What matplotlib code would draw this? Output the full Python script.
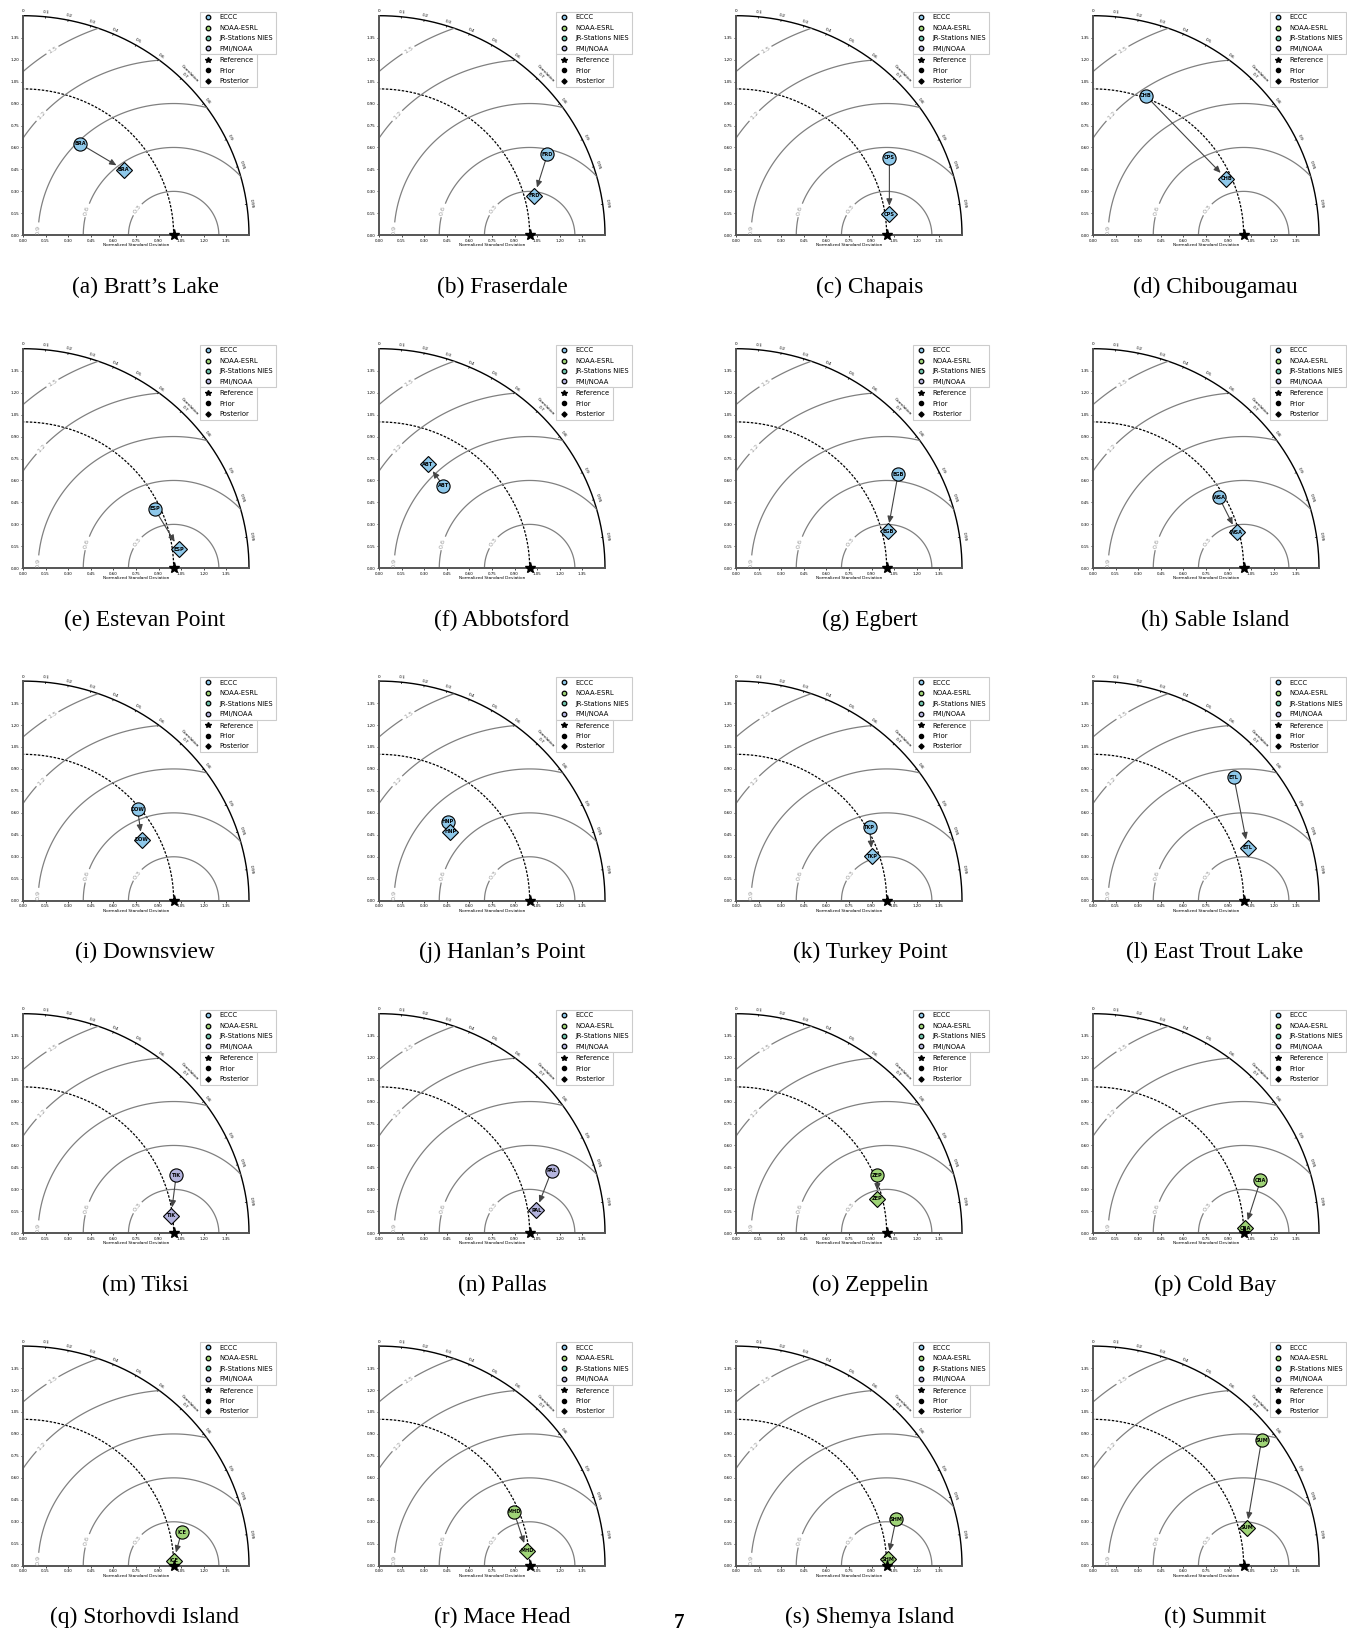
import numpy as np
import matplotlib.pyplot as plt
from matplotlib.lines import Line2D
from matplotlib.patches import Wedge

# station info, one panel per station
letters = list('abcdefghijklmnopqrst')
names = ["Bratt’s Lake", "Fraserdale", "Chapais", "Chibougamau",
         "Estevan Point", "Abbotsford", "Egbert", "Sable Island",
         "Downsview", "Hanlan’s Point", "Turkey Point", "East Trout Lake",
         "Tiksi", "Pallas", "Zeppelin", "Cold Bay",
         "Storhovdi Island", "Mace Head", "Shemya Island", "Summit"]
codes = ['BRA', 'FRD', 'CPS', 'CHB', 'ESP', 'ABT', 'EGB', 'WSA',
         'DOW', 'HNP', 'TKP', 'ETL', 'TIK', 'PAL', 'ZEP', 'CBA',
         'ICE', 'MHD', 'SHM', 'SUM']
networks = ['ECCC'] * 12 + ['FMI/NOAA'] * 2 + ['NOAA-ESRL'] * 6

# normalized std and correlation (prior / posterior)
prior_std = [0.731, 1.248, 1.148, 1.015, 0.963, 0.707, 1.252, 0.967,
             0.984, 0.707, 1.019, 1.260, 1.091, 1.223, 1.019, 1.169,
             1.077, 0.968, 1.109, 1.409]
prior_corr = [0.520, 0.896, 0.887, 0.347, 0.907, 0.604, 0.859, 0.865,
              0.773, 0.645, 0.870, 0.742, 0.932, 0.937, 0.921, 0.951,
              0.977, 0.925, 0.958, 0.794]
post_std = [0.805, 1.067, 1.028, 0.966, 1.044, 0.780, 1.038, 0.984,
            0.891, 0.667, 0.953, 1.088, 0.990, 1.055, 0.967, 1.010,
            1.001, 0.986, 1.008, 1.053]
post_corr = [0.830, 0.967, 0.990, 0.917, 0.992, 0.415, 0.970, 0.968,
             0.885, 0.709, 0.948, 0.943, 0.9926, 0.989, 0.970, 0.9994,
             0.9994, 0.9948, 0.9990, 0.969]

net_names = ['ECCC', 'NOAA-ESRL', 'JR-Stations NIES', 'FMI/NOAA']
net_colors = ['#8ec8ea', '#9fd477', '#6fc3ab', '#b4b4de']

corr_ticks = [0.0, 0.1, 0.2, 0.3, 0.4, 0.5, 0.6, 0.7, 0.8, 0.9, 0.95, 0.99]
rms_levels = [0.3, 0.6, 0.9, 1.2, 1.5]
std_ticks = [0.0, 0.15, 0.30, 0.45, 0.60, 0.75, 0.90, 1.05, 1.20, 1.35]

W, H = 1347, 1632
col_x = [23, 379, 736, 1093]
row_y = [235.3, 568.3, 900.7, 1233.3, 1565.7]
cap_x = [145, 502, 870, 1215]
ax_w, ax_h = 226, 219.6

gx, gy = np.meshgrid(np.linspace(0, 1.5, 400), np.linspace(0, 1.5, 400))
rms = np.sqrt((gx - 1.0) ** 2 + gy ** 2)
rms_lab_pos = [(0.749, 0.184), (0.417, 0.173), (0.10, 0.04), (0.118, 0.82), (0.195, 1.266)]

leg_kw = dict(loc='upper left', fontsize=4.9, frameon=True, fancybox=False,
              edgecolor='#cccccc', borderaxespad=0, handlelength=1.7,
              handletextpad=0.8, borderpad=0.4, labelspacing=0.65, framealpha=1)


def polar_xy(s, c):
    return s * c, s * np.sqrt(1 - c ** 2)


def taylor_panel(ax, k):
    ax.set_xlim(0, 1.5)
    ax.set_ylim(0, 1.5)
    for s in ['top', 'right']:
        ax.spines[s].set_visible(False)
    for s in ['left', 'bottom']:
        ax.spines[s].set_linewidth(1.4)
        ax.spines[s].set_color('#555555')
    ax.set_xticks(std_ticks)
    ax.set_yticks(std_ticks)
    ax.set_xticklabels(['%.2f' % t for t in std_ticks])
    ax.set_yticklabels(['%.2f' % t for t in std_ticks])
    ax.tick_params(labelsize=2.9, length=1.5, width=0.5, pad=1)
    ax.set_xlabel('Normalized Standard Deviation', fontsize=3.1, labelpad=0.5)

    th = np.linspace(0, np.pi / 2, 300)
    ax.plot(1.5 * np.cos(th), 1.5 * np.sin(th), color='k', lw=1.0, clip_on=False)
    ax.plot(np.cos(th), np.sin(th), color='k', lw=0.9, ls=(0, (2, 1.2)))

    wedge = Wedge((0, 0), 1.5, 0, 90, facecolor='none', edgecolor='none')
    ax.add_patch(wedge)
    cs = ax.contour(gx, gy, rms, levels=rms_levels, colors='#808080', linewidths=0.9)
    cs.set_clip_path(wedge)
    ax.clabel(cs, fontsize=4.6, colors='#9a9a9a', fmt='%.1f', manual=rms_lab_pos,
              inline=True, inline_spacing=2)

    # correlation labels along the arc
    for c in corr_ticks:
        a = np.arccos(c)
        ax.plot([1.49 * np.cos(a), 1.5 * np.cos(a)], [1.49 * np.sin(a), 1.5 * np.sin(a)],
                color='k', lw=0.5, clip_on=False)
        ax.text(1.53 * np.cos(a), 1.53 * np.sin(a), '%g' % c, fontsize=3.1,
                rotation=np.degrees(a) - 90, ha='center', va='center')
    ax.text(1.565 * np.cos(np.pi / 4), 1.565 * np.sin(np.pi / 4), 'Correlation',
            fontsize=3.1, rotation=-45, ha='center', va='center')

    color = net_colors[net_names.index(networks[k])]
    x0, y0 = polar_xy(prior_std[k], prior_corr[k])
    x1, y1 = polar_xy(post_std[k], post_corr[k])
    ax.annotate('', xy=(x1, y1), xytext=(x0, y0),
                arrowprops=dict(arrowstyle='-|>,head_length=0.5,head_width=0.22',
                                color='#444444', lw=0.8, shrinkA=4, shrinkB=6,
                                mutation_scale=8), zorder=4)
    ax.plot(x0, y0, 'o', ms=9.5, mfc=color, mec='k', mew=0.8, zorder=5)
    ax.plot(x1, y1, 'D', ms=8, mfc=color, mec='k', mew=0.8, zorder=5)
    for xx, yy in [(x0, y0), (x1, y1)]:
        ax.text(xx, yy, codes[k], fontsize=3.6, weight='bold', ha='center', va='center', zorder=6)
    ax.plot(1.0, 0.0, '*', ms=8, color='k', clip_on=False, zorder=7)

    h1 = [Line2D([], [], ls='none', marker='o', ms=3.3, mfc=c, mec='k', mew=0.9)
          for c in net_colors]
    leg1 = ax.legend(h1, net_names, bbox_to_anchor=(0.783, 1.018), **leg_kw)
    leg1.get_frame().set_linewidth(0.8)
    ax.add_artist(leg1)
    return leg1


fig = plt.figure(figsize=(W / 100, H / 100), dpi=100)
panels = []
for k in range(20):
    r, c = divmod(k, 4)
    ax = fig.add_axes([col_x[c] / W, 1 - row_y[r] / H, ax_w / W, ax_h / H])
    leg1 = taylor_panel(ax, k)
    panels.append((ax, leg1))
    fig.text(cap_x[c] / W, 1 - (row_y[r] + 52) / H, '(%s) %s' % (letters[k], names[k]),
             ha='center', va='center', fontsize=16.8, family='Liberation Serif')

# second legend box sits right under the first one
fig.canvas.draw()
h2 = [Line2D([], [], ls='none', marker='*', ms=3.8, color='k'),
      Line2D([], [], ls='none', marker='o', ms=3.0, color='k'),
      Line2D([], [], ls='none', marker='D', ms=2.6, color='k')]
for ax, leg1 in panels:
    bb = leg1.get_frame().get_window_extent().transformed(ax.transAxes.inverted())
    leg2 = ax.legend(h2, ['Reference', 'Prior', 'Posterior'],
                     bbox_to_anchor=(bb.x0, bb.y0), **leg_kw)
    leg2.get_frame().set_linewidth(0.8)

fig.text(678.7 / W, 1 - 1622.5 / H, '7', ha='center', va='center', fontsize=15,
         weight='bold', family='Liberation Serif')

fig.savefig('out.png', dpi=100, facecolor='white')
